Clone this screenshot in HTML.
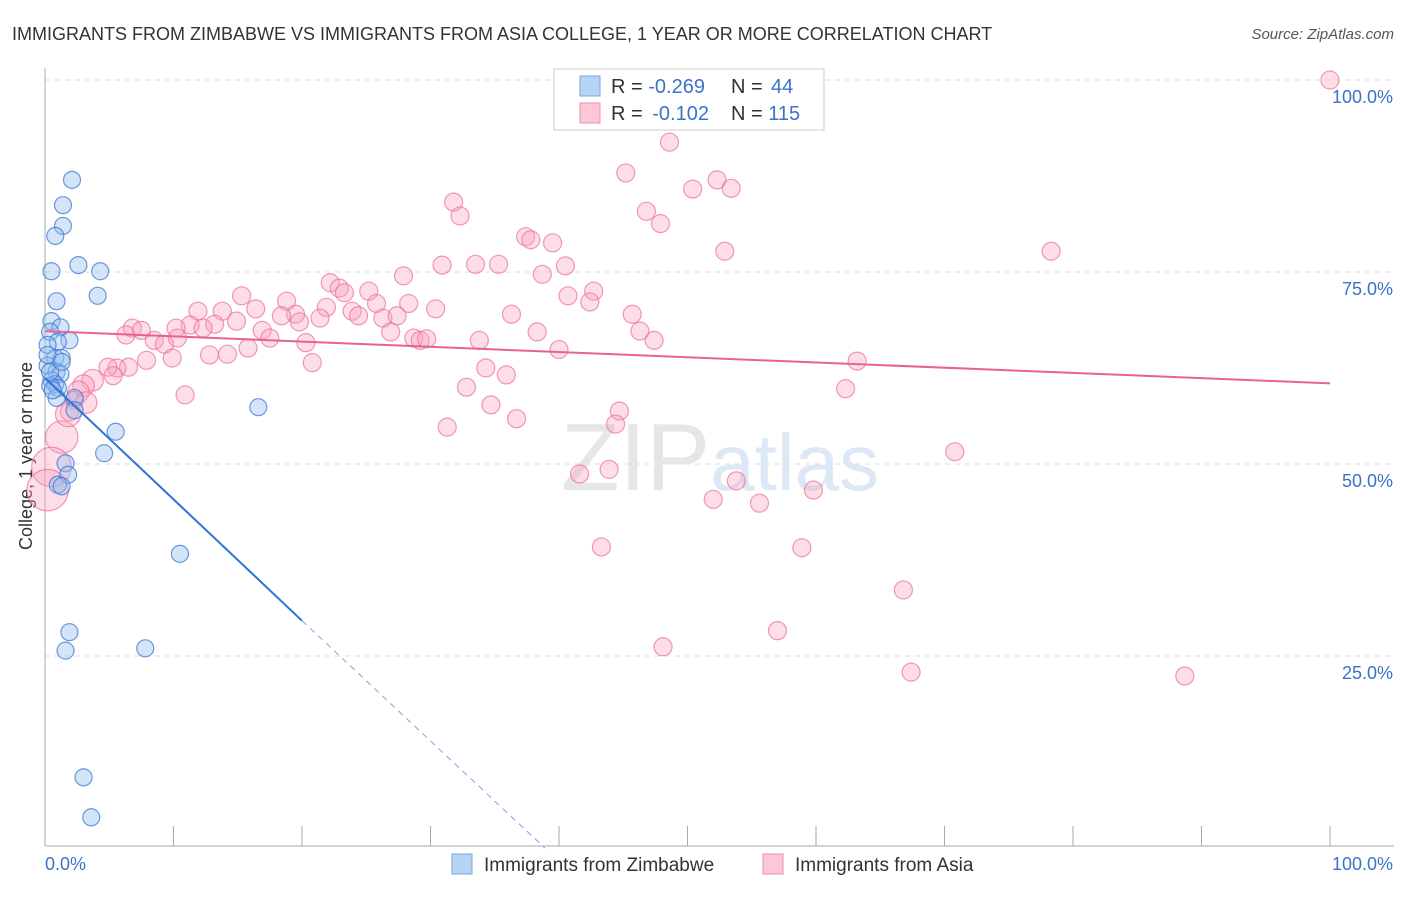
<!DOCTYPE html>
<html><head><meta charset="utf-8"><style>
body{margin:0;background:#fff;font-family:"Liberation Sans",sans-serif;}
svg text{font-family:"Liberation Sans",sans-serif;}
</style></head><body>
<svg id="chart" width="1406" height="892">
<text x="12" y="40" font-size="18" fill="#333">IMMIGRANTS FROM ZIMBABWE VS IMMIGRANTS FROM ASIA COLLEGE, 1 YEAR OR MORE CORRELATION CHART</text>
<text x="1394" y="39" font-size="15" fill="#555" font-style="italic" text-anchor="end">Source: ZipAtlas.com</text>
<text x="32" y="456" font-size="18" fill="#333" text-anchor="middle" transform="rotate(-90 32 456)">College, 1 year or more</text>
<g id="grid"></g>
<text x="720" y="490" font-size="96" fill="#e6e6e6" text-anchor="middle" font-family="Liberation Serif">ZIP<tspan fill="#dce8f6" font-family="Liberation Sans" font-size="80">atlas</tspan></text>
<g id="marks"></g>
<g>
<rect x="554" y="69" width="270" height="61" fill="#fff" stroke="#ccc"/>
<rect x="580" y="76" width="20" height="20" fill="#b8d4f5" stroke="#7aa6e0"/>
<rect x="580" y="103" width="20" height="20" fill="#fcc8d8" stroke="#f08cab"/>
<text x="611" y="93" font-size="20" fill="#333">R = <tspan fill="#3b73c8">-0.269</tspan><tspan x="731">N = </tspan><tspan fill="#3b73c8" x="771">44</tspan></text>
<text x="611" y="120" font-size="20" fill="#333">R = <tspan fill="#3b73c8" dx="4">-0.102</tspan><tspan x="731">N = </tspan><tspan fill="#3b73c8">115</tspan></text>
</g>
<g>
<rect x="452" y="854" width="20" height="20" fill="#b8d4f5" stroke="#7aa6e0"/>
<text x="484" y="871" font-size="19" fill="#333">Immigrants from Zimbabwe</text>
<rect x="763" y="854" width="20" height="20" fill="#fcc8d8" stroke="#f08cab"/>
<text x="795" y="871" font-size="19" fill="#333">Immigrants from Asia</text>
</g>
</svg>
<script>
const yTicks=[25,50,75,100];
const yTickLabels=["25.0%","50.0%","75.0%","100.0%"];
const blueX=[2.1,1.4,1.4,0.8,0.5,2.6,4.3,4.1,0.9,0.5,1.2,0.4,1.9,1.0,0.2,0.8,1.3,0.2,0.9,1.2,0.5,0.8,1.0,0.4,0.9,2.3,2.3,16.6,5.5,4.6,1.6,1.8,1.0,1.3,10.5,1.9,1.6,7.8,3.0,3.6,0.4,0.2,0.6,1.3];
const blueY=[87.0,83.7,81.0,79.7,75.1,75.9,75.1,71.9,71.2,68.6,67.8,67.2,66.1,65.9,65.5,63.8,63.8,62.8,62.0,61.7,60.9,60.4,59.9,60.2,58.6,58.6,57.0,57.4,54.2,51.4,50.1,48.6,47.3,47.1,38.3,28.1,25.7,26.0,9.2,4.0,62.0,64.2,59.6,63.3];
const pinkX=[100,48.6,45.2,52.3,50.4,53.4,31.8,32.3,46.8,47.9,37.4,37.8,39.5,52.9,78.3,30.9,33.5,35.3,40.5,27.9,38.7,22.2,22.9,23.3,25.2,42.7,15.3,40.7,42.4,18.8,25.8,28.3,21.9,11.9,16.4,23.9,30.4,13.8,19.5,18.4,21.4,24.4,26.3,36.3,45.7,14.9,27.4,11.3,13.2,19.8,16.9,10.2,6.8,6.3,7.5,12.3,17.5,26.9,38.3,46.3,8.5,9.3,10.3,28.7,29.2,29.7,33.8,47.4,20.3,15.8,40.0,12.8,14.2,7.9,9.9,20.8,63.2,6.5,5.6,4.9,34.3,35.9,5.3,3.7,3.0,32.8,62.3,2.6,10.9,2.3,34.7,1.9,44.7,36.7,44.4,31.3,1.3,70.8,43.9,41.6,0.5,0.2,53.8,59.8,52.0,55.6,43.3,58.9,66.8,57.0,48.1,67.4,88.7,1.8,3.2];
const pinkY=[100,91.9,87.9,87.0,85.8,85.9,84.1,82.3,82.9,81.3,79.6,79.2,78.8,77.7,77.7,75.9,76.0,76.0,75.8,74.5,74.7,73.6,72.9,72.3,72.5,72.5,71.9,71.9,71.1,71.2,70.9,70.9,70.4,69.9,70.2,69.9,70.2,69.9,69.5,69.3,69.0,69.3,69.0,69.5,69.5,68.6,69.3,68.1,68.2,68.5,67.4,67.7,67.7,66.8,67.4,67.7,66.4,67.2,67.2,67.3,66.1,65.6,66.4,66.4,66.1,66.3,66.1,66.1,65.8,65.1,64.9,64.2,64.3,63.5,63.8,63.2,63.4,62.6,62.5,62.6,62.5,61.6,61.5,60.9,60.2,60.0,59.8,59.4,59.0,58.3,57.7,56.8,56.9,55.9,55.2,54.8,53.5,51.6,49.3,48.7,49.6,46.6,47.8,46.6,45.4,44.9,39.2,39.1,33.6,28.3,26.2,22.9,22.4,56.5,58.0];
const pinkSize=[1,1,1,1,1,1,1,1,1,1,1,1,1,1,1,1,1,1,1,1,1,1,1,1,1,1,1,1,1,1,1,1,1,1,1,1,1,1,1,1,1,1,1,1,1,1,1,1,1,1,1,1,1,1,1,1,1,1,1,1,1,1,1,1,1,1,1,1,1,1,1,1,1,1,1,1,1,1,1,1,1,1,1,1.2,1.2,1,1,1.2,1,1,1,1,1,1,1,1,1.8,1,1,1,2.2,2.3,1,1,1,1,1,1,1,1,1,1,1,1.4,1.2];
const blueTrend=[[0,61.2],[20,29.6]];
const blueDash=[[20,29.6],[38.9,0]];
const pinkTrend=[[0,67.3],[100,60.5]];
const NS="http://www.w3.org/2000/svg";
const X=v=>45+v*12.85, Y=v=>848-v*7.68;
function mk(t,a,p){const e=document.createElementNS(NS,t);for(const k in a)e.setAttribute(k,a[k]);p.appendChild(e);return e;}
const grid=document.getElementById('grid'), marks=document.getElementById('marks');
yTicks.forEach((t,i)=>{
 const l=mk('line',{x1:45,x2:1394,y1:Y(t),y2:Y(t),stroke:'#ddd','stroke-dasharray':'5,5'},grid);
 
 
 const tx=mk('text',{x:1393,y:Y(t)+23,'font-size':18,fill:'#3b73c8','text-anchor':'end'},grid);
 tx.textContent=yTickLabels[i];
 
 
});
mk('line',{x1:45,x2:45,y1:68,y2:846,stroke:'#aaa'},grid);
mk('line',{x1:45,x2:1394,y1:846,y2:846,stroke:'#aaa'},grid);
for(let i=1;i<=10;i++){mk('line',{x1:X(i*10),x2:X(i*10),y1:826,y2:846,stroke:'#aaa'},grid);}
const xl=mk('text',{x:45,y:870,'font-size':18,fill:'#3b73c8'},grid);xl.textContent='0.0%';


const xr=mk('text',{x:1393,y:870,'font-size':18,fill:'#3b73c8','text-anchor':'end'},grid);xr.textContent='100.0%';


pinkX.forEach((v,i)=>{
 const c=mk('circle',{cx:X(v),cy:Y(pinkY[i]),r:9*pinkSize[i],fill:'rgba(248,160,188,0.35)',stroke:'rgba(236,110,150,0.7)','stroke-width':1.2},marks);
 
 
});
blueX.forEach((v,i)=>{
 const c=mk('circle',{cx:X(v),cy:Y(blueY[i]),r:8.5,fill:'rgba(150,190,240,0.4)',stroke:'rgba(60,120,210,0.75)','stroke-width':1.2},marks);
 
 
});
const pl=mk('line',{x1:X(pinkTrend[0][0]),y1:Y(pinkTrend[0][1]),x2:X(pinkTrend[1][0]),y2:Y(pinkTrend[1][1]),stroke:'#e8628f','stroke-width':2},marks);


const bl=mk('line',{x1:X(blueTrend[0][0]),y1:Y(blueTrend[0][1]),x2:X(blueTrend[1][0]),y2:Y(blueTrend[1][1]),stroke:'#2b74d6','stroke-width':2},marks);


const bd=mk('line',{x1:X(blueDash[0][0]),y1:Y(blueDash[0][1]),x2:X(blueDash[1][0]),y2:Y(blueDash[1][1]),stroke:'#7aa6e0','stroke-width':1,'stroke-dasharray':'6,5'},marks);


</script>
</body></html>
